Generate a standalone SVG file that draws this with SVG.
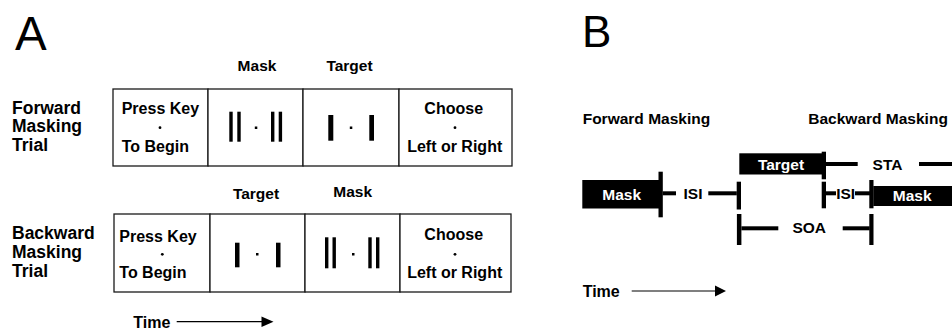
<svg xmlns="http://www.w3.org/2000/svg" width="952" height="331" viewBox="0 0 952 331">
<style>
  .t{font-family:"Liberation Sans",Arial,sans-serif;font-weight:bold;fill:#000}
  .lbl{font-size:15.5px}
  .row{font-size:17.5px}
  .box{fill:#fff;stroke:#1a1a1a;stroke-width:1.3}
  .big{font-family:"Liberation Sans",Arial,sans-serif;font-weight:normal;fill:#000}
  .w{fill:#fff}
  .m{text-anchor:middle}
  .thin{stroke:#000;stroke-width:1.2;fill:none}
</style>
<rect width="952" height="331" fill="#fff"/>

<!-- Panel A -->
<text class="big" x="15" y="50" font-size="47.5">A</text>
<text class="t lbl m" x="257" y="70.5">Mask</text>
<text class="t lbl m" x="349.5" y="70.5">Target</text>
<text class="t row" x="12" y="113.8">Forward</text>
<text class="t row" x="12" y="132.3">Masking</text>
<text class="t row" x="12" y="150.8">Trial</text>

<g id="fwd-start">
  <rect class="box" x="113" y="89" width="95" height="77"/>
  <text class="t" font-size="16" x="121.7" y="114">Press Key</text>
  <circle cx="160" cy="127.7" r="1.4"/>
  <text class="t" font-size="16" x="121.7" y="151.8">To Begin</text>
</g>
<g id="fwd-mask">
  <rect class="box" x="208" y="89" width="95" height="77"/>
  <rect x="229.3" y="111.7" width="3.4" height="30"/>
  <rect x="237.3" y="111.7" width="3.4" height="30"/>
  <rect x="254.8" y="126.5" width="2.5" height="2.5"/>
  <rect x="271" y="111.7" width="3.4" height="30"/>
  <rect x="278.7" y="111.7" width="3.4" height="30"/>
</g>
<g id="fwd-target">
  <rect class="box" x="303" y="89" width="96" height="77"/>
  <rect x="328.3" y="115" width="5" height="25.7"/>
  <rect x="349.8" y="126.5" width="2.5" height="2.5"/>
  <rect x="369.3" y="115" width="4.7" height="25.7"/>
</g>
<g id="fwd-choose">
  <rect class="box" x="399" y="89" width="113" height="77"/>
  <text class="t m" font-size="16" x="453.7" y="114">Choose</text>
  <circle cx="455" cy="127.7" r="1.4"/>
  <text class="t m" font-size="16" x="454.7" y="151.8">Left or Right</text>
</g>

<text class="t lbl m" x="256" y="199">Target</text>
<text class="t lbl m" x="352.7" y="197">Mask</text>
<text class="t row" x="12" y="239">Backward</text>
<text class="t row" x="12" y="258">Masking</text>
<text class="t row" x="12" y="277">Trial</text>

<g id="bwd-start">
  <rect class="box" x="114" y="214" width="96" height="78"/>
  <text class="t" font-size="16" x="119.3" y="242">Press Key</text>
  <circle cx="162.3" cy="254.3" r="1.4"/>
  <text class="t" font-size="16" x="119.3" y="277.5">To Begin</text>
</g>
<g id="bwd-target">
  <rect class="box" x="210" y="214" width="95" height="78"/>
  <rect x="235" y="242.7" width="4.5" height="24.6"/>
  <rect x="256" y="253" width="2.5" height="2.5"/>
  <rect x="276" y="242.7" width="4.5" height="24.6"/>
</g>
<g id="bwd-mask">
  <rect class="box" x="305" y="214" width="95" height="78"/>
  <rect x="325" y="237.3" width="3.4" height="31"/>
  <rect x="332.5" y="237.3" width="3.4" height="31"/>
  <rect x="352" y="253" width="2.5" height="2.5"/>
  <rect x="368.3" y="237.3" width="3.4" height="31"/>
  <rect x="376" y="237.3" width="3.4" height="31"/>
</g>
<g id="bwd-choose">
  <rect class="box" x="400" y="214" width="111" height="78"/>
  <text class="t m" font-size="16" x="453.7" y="239.5">Choose</text>
  <circle cx="455" cy="254.3" r="1.4"/>
  <text class="t m" font-size="16" x="454.7" y="278">Left or Right</text>
</g>

<g id="time-a">
  <text class="t" font-size="16" x="133.3" y="327.5">Time</text>
  <line class="thin" x1="176.7" y1="321.7" x2="263" y2="321.7"/>
  <polygon points="261.5,316.5 273.5,321.7 261.5,327"/>
</g>

<!-- Panel B -->
<text class="big" x="582" y="46.7" font-size="44">B</text>
<text class="t lbl" x="582.7" y="124">Forward Masking</text>
<text class="t lbl" x="808.3" y="124">Backward Masking</text>

<g id="fwd-mask-b">
  <rect x="582.3" y="180" width="78" height="28.5"/>
  <text class="t lbl m w" x="621.7" y="200">Mask</text>
</g>
<g id="target-b">
  <rect x="739.3" y="153.3" width="84" height="21.2"/>
  <text class="t lbl m w" x="781" y="169.5">Target</text>
</g>
<g id="bwd-mask-b">
  <rect x="873.3" y="186" width="78.7" height="20"/>
  <text class="t lbl m w" x="912.2" y="201">Mask</text>
</g>

<g id="connectors">
  <!-- forward ISI -->
  <rect x="658.5" y="171.7" width="4.3" height="45.6"/>
  <rect x="662.7" y="191.3" width="13.3" height="4"/>
  <text class="t lbl m" x="693" y="199">ISI</text>
  <rect x="708.3" y="191.3" width="28.5" height="4"/>
  <rect x="736.7" y="181.7" width="4.3" height="27.8"/>
  <!-- STA -->
  <rect x="821.7" y="151.7" width="4.3" height="27.6"/>
  <rect x="826" y="162" width="31.7" height="4"/>
  <text class="t lbl m" x="887.5" y="169.5">STA</text>
  <rect x="919" y="162" width="33" height="4"/>
  <!-- backward ISI -->
  <rect x="821.7" y="181.7" width="4.3" height="26.6"/>
  <rect x="826" y="191.3" width="10" height="4"/>
  <text class="t lbl m" x="845.7" y="199">ISI</text>
  <rect x="855" y="191.3" width="15" height="4"/>
  <rect x="869.3" y="180" width="4.2" height="28.3"/>
  <!-- SOA -->
  <rect x="736.9" y="214" width="4.5" height="31"/>
  <rect x="741.4" y="226.3" width="36.9" height="4"/>
  <text class="t lbl m" x="809.2" y="233">SOA</text>
  <rect x="842.7" y="226.3" width="27" height="4"/>
  <rect x="869.3" y="214" width="4.2" height="31"/>
</g>

<g id="time-b">
  <text class="t" font-size="16" x="582.7" y="296.5">Time</text>
  <line class="thin" x1="631.7" y1="291" x2="716" y2="291"/>
  <polygon points="715,285.5 726,291 715,296.5"/>
</g>
</svg>
